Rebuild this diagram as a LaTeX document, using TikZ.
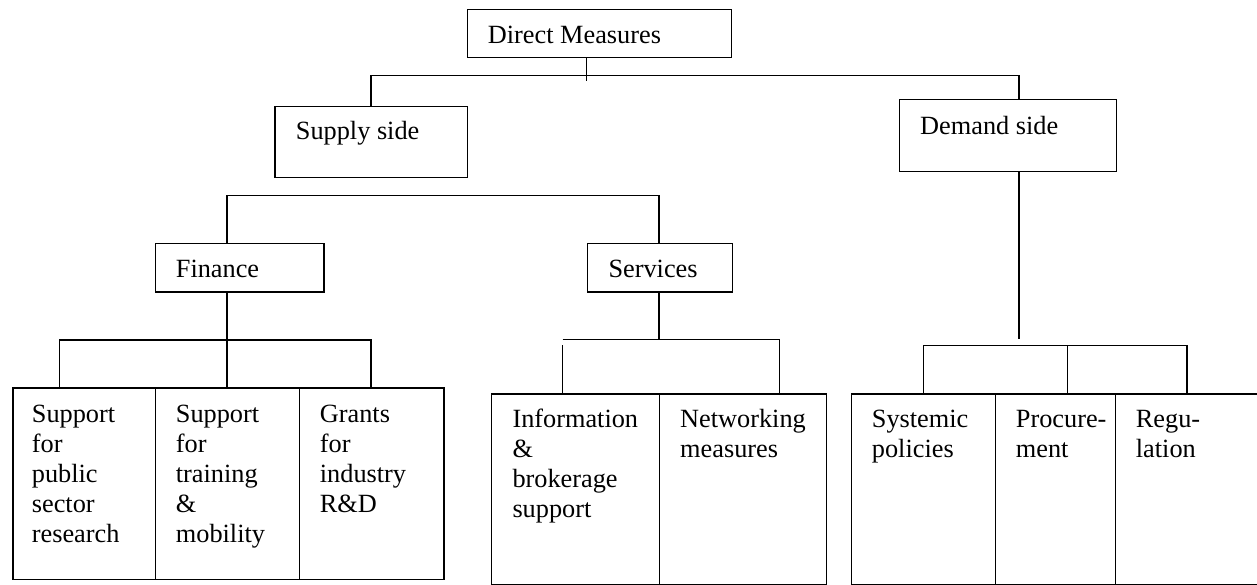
\documentclass[tikz,border=0pt]{standalone}
\usepackage{fontspec}
\setmainfont{Liberation Serif}
\begin{document}
\begin{tikzpicture}[x=1pt,y=-1pt,
  box/.style={draw, line width=1.2pt, inner sep=0pt, anchor=north west},
  txt/.style={anchor=base west, inner sep=0pt, font=\fontsize{26.3}{30}\selectfont},
  conn/.style={line width=1.2pt}]
\useasboundingbox (0,0) rectangle (1257,585);
% boxes
\node[box, minimum width=264.3pt, minimum height=47.7pt] (dm) at (466.7,9) {};
\node[box, minimum width=192.7pt, minimum height=71.3pt] (supply) at (274.3,106) {};
\node[box, minimum width=216.7pt, minimum height=71.7pt] (demand) at (899,99.3) {};
\node[box, minimum width=168.6pt, minimum height=48pt] (finance) at (154.7,243.3) {};
\node[box, minimum width=145pt, minimum height=48pt] (services) at (586.7,243.3) {};
\node[box, minimum width=142.7pt, minimum height=191.7pt] (f1) at (12.3,387.3) {};
\node[box, minimum width=144pt, minimum height=191.7pt] (f2) at (155,387.3) {};
\node[box, minimum width=144.3pt, minimum height=191.7pt] (f3) at (299,387.3) {};
\node[box, minimum width=168pt, minimum height=191pt] (s1) at (491,393.3) {};
\node[box, minimum width=167pt, minimum height=191pt] (s2) at (659,393.3) {};
\node[box, minimum width=144pt, minimum height=191pt] (d1) at (851,393.3) {};
\node[box, minimum width=120pt, minimum height=191pt] (d2) at (995,393.3) {};
\node[box, minimum width=145pt, minimum height=191pt] (d3) at (1115,393.3) {};
% texts
\node[txt] (tdm) at (487.7,44) {Direct Measures};
\node[txt] (tsupply) at (295.7,140) {Supply side};
\node[txt] (tdemand) at (920,134.3) {Demand side};
\node[txt] (tfinance) at (175.7,277.7) {Finance};
\node[txt] (tservices) at (608.3,277.7) {Services};
\node[txt] (tf1) at (31.7,422.7) {\parbox[t]{130pt}{Support\\for\\public\\sector\\research}};
\node[txt] (tf2) at (175.7,422.7) {\parbox[t]{130pt}{Support\\for\\training\\\&\\mobility}};
\node[txt] (tf3) at (319.7,422.7) {\parbox[t]{130pt}{Grants\\for\\industry\\R\&D}};
\node[txt] (ts1) at (512.3,427.7) {\parbox[t]{150pt}{Information\\\&\\brokerage\\support}};
\node[txt] (ts2) at (680,427.7) {\parbox[t]{150pt}{Networking\\measures}};
\node[txt] (td1) at (871.7,427.7) {\parbox[t]{130pt}{Systemic\\policies}};
\node[txt] (td2) at (1015.7,427.7) {\parbox[t]{130pt}{Procure-\\ment}};
\node[txt] (td3) at (1135.7,427.7) {\parbox[t]{130pt}{Regu-\\lation}};
% top level connectors
\coordinate (jdm) at (586.7,80.7);
\coordinate (hl) at (371,75.7);
\coordinate (hr) at (1019,75.7);
\draw[conn] (dm.south -| jdm) -- (jdm);
\draw[conn] (supply.north -| hl) -- (hl) -- (hr) -- (demand.north -| hr);
% supply branch
\coordinate (sl) at (227,195.7);
\coordinate (sr) at (659,195.7);
\draw[conn] (finance.north -| sl) -- (sl) -- (sr) -- (services.north -| sr);
% finance branch
\coordinate (fj) at (227,340);
\coordinate (fl) at (59.3,340);
\coordinate (fr) at (371,340);
\draw[conn] (finance.south -| fj) -- (fj);
\draw[conn] (f1.north -| fl) -- (fl) -- (fr) -- (f3.north -| fr);
\draw[conn] (fj) -- (f2.north -| fj);
% services branch
\coordinate (sj) at (659,339.3);
\coordinate (sbl) at (562.7,339.3);
\coordinate (sbr) at (779.3,339.3);
\coordinate (sbl2) at (562.7,345);
\draw[conn] (services.south -| sj) -- (sj);
\draw[conn] (sbl) -- (sbr) -- (s2.north -| sbr);
\draw[conn] (sbl2) -- (s1.north -| sbl2);
% demand branch
\coordinate (dj) at (1019,339.3);
\coordinate (dl) at (923.3,345.7);
\coordinate (dr) at (1187,345.7);
\coordinate (dmid) at (1067.3,345.7);
\draw[conn] (demand.south -| dj) -- (dj);
\draw[conn] (d1.north -| dl) -- (dl) -- (dr) -- (d3.north -| dr);
\draw[conn] (dmid) -- (d2.north -| dmid);
\end{tikzpicture}
\end{document}
